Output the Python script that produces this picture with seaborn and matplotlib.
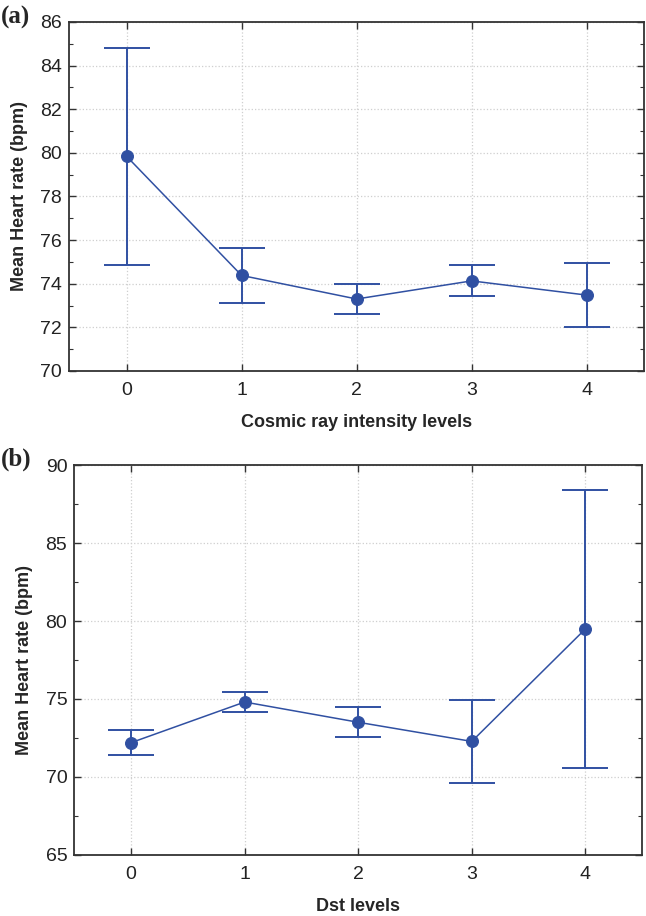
import numpy as np
import pandas as pd
import matplotlib
matplotlib.use("Agg")
import matplotlib.pyplot as plt
from matplotlib.ticker import MultipleLocator
import seaborn as sns

# Panel (a): cosmic ray intensity levels
cosmic_levels = ["0", "1", "2", "3", "4"]
cosmic_mean = [79.84, 74.38, 73.30, 74.13, 73.48]
cosmic_low = [74.86, 73.13, 72.59, 73.44, 72.01]
cosmic_high = [84.82, 75.62, 74.01, 74.84, 74.94]

# Panel (b): Dst levels
dst_levels = ["0", "1", "2", "3", "4"]
dst_mean = [72.19, 74.80, 73.50, 72.27, 79.49]
dst_low = [71.40, 74.16, 72.53, 69.62, 70.54]
dst_high = [73.00, 75.45, 74.46, 74.91, 88.44]

BLUE = "#3050a2"

sns.set_style("white")
plt.rcParams["font.family"] = ["Liberation Sans", "DejaVu Sans"]


def draw_panel(ax, levels, mean, low, high, xlabel, ylim, major, minor):
    df = pd.DataFrame({"level": levels, "mean": mean, "low": low, "high": high})
    sns.pointplot(data=df, x="level", y="mean", color=BLUE, errorbar=None,
                  markers="o", markersize=8.5, linewidth=1.1, ax=ax)
    err = np.vstack([df["mean"] - df["low"], df["high"] - df["mean"]])
    ax.errorbar(np.arange(len(df)), df["mean"], yerr=err, fmt="none",
                ecolor=BLUE, elinewidth=1.4, capsize=16.5, capthick=1.4, zorder=3)
    ax.set_xlim(-0.5, len(df) - 0.5)
    ax.set_ylim(*ylim)
    ax.yaxis.set_major_locator(MultipleLocator(major))
    ax.yaxis.set_minor_locator(MultipleLocator(minor))
    ax.grid(True, which="major", color="#cfcfcf", linestyle=":", linewidth=0.9)
    ax.set_axisbelow(True)
    ax.tick_params(which="both", direction="in", top=True, right=True,
                   bottom=True, left=True, labelsize=14, colors="#333333",
                   labelcolor="#222222")
    ax.tick_params(which="major", length=5, width=1)
    ax.tick_params(which="minor", length=3, width=0.8)
    ax.tick_params(axis="x", which="major", pad=8)
    ax.tick_params(axis="y", which="major", pad=5)
    ax.tick_params(axis="x", which="minor", bottom=False, top=False)
    for sp in ax.spines.values():
        sp.set_color("#333333")
        sp.set_linewidth(1.3)
    ax.set_xlabel(xlabel, fontsize=13, fontweight="bold", labelpad=11)
    ax.set_ylabel("Mean Heart rate (bpm)", fontsize=13, fontweight="bold", labelpad=9)


fig = plt.figure(figsize=(6.46, 9.16), dpi=100)
ax1 = fig.add_axes([0.107, 0.595, 0.890, 0.381])
ax2 = fig.add_axes([0.115, 0.067, 0.879, 0.425])

draw_panel(ax1, cosmic_levels, cosmic_mean, cosmic_low, cosmic_high,
           "Cosmic ray intensity levels", (70, 86), 2, 1)
draw_panel(ax2, dst_levels, dst_mean, dst_low, dst_high,
           "Dst levels", (65, 90), 5, 2.5)

for tag, y in [("(a)", 1 - 17 / 916), ("(b)", 1 - 459 / 916)]:
    fig.text(0.002, y, tag, fontsize=18, fontweight="bold",
             family="Liberation Serif", va="center", ha="left")

fig.savefig("out.png", dpi=100)
